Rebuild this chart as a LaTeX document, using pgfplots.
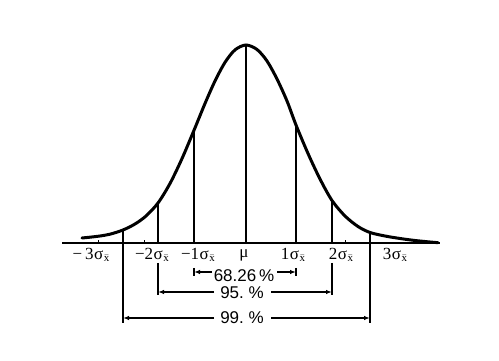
\documentclass[border=0pt]{standalone}
\usepackage{pgfplots}
\pgfplotsset{compat=1.18}
\usetikzlibrary{arrows.meta}
\usepackage{fontspec}
\setmainfont{Liberation Serif}
\newfontfamily\ann{Liberation Sans}
\newcommand{\sx}[1]{#1\kern0.5pt σ\kern0.5pt\raisebox{-0.25ex}{\fontsize{11}{11}\selectfont$\bar{\mathrm{x}}$}}
\tikzset{lab/.style={font=\fontsize{17}{17}\selectfont, inner sep=0pt},
  pct/.style={font=\ann\fontsize{17}{17}\selectfont, inner sep=0pt}}
\begin{document}
\begin{tikzpicture}
\begin{axis}[x=1pt,y=1pt,xmin=0,xmax=499,ymin=-118,ymax=243,
  hide axis, clip=false]
% frame for the page size
\addplot[draw=none] coordinates {(0,-118) (499,243)};
% baseline
\addplot[line width=1.8pt] coordinates {(62,0) (440,0)};
% small ticks
\addplot[line width=1pt] coordinates {(98,0) (98,3)};
\addplot[line width=1pt] coordinates {(144,0) (144,3)};
\addplot[line width=1pt] coordinates {(345,0) (345,3)};
% curve
\addplot[smooth, line width=3pt, line cap=round] coordinates {
(82,5) (90,5.8) (100,7) (110,8.8) (123,13) (135,19) (146,27) (158,40)
(170,59.5) (182,84.4) (194,112.7) (205,139.5) (215,162) (225,180.6)
(235,193.1) (246,198) (257,193.5) (267,182) (277,164) (287,142)
(296,118) (308,89.5) (320,64) (332,42.5) (345,27) (358,16.5)
(370,10.5) (385,7) (400,4.5) (415,2.5) (430,1) (438,0.3)};
% vertical lines
\addplot[line width=1.4pt] coordinates {(246,0) (246,198)};
\addplot[line width=1.4pt] coordinates {(194,0) (194,112.7)};
\addplot[line width=1.4pt] coordinates {(296,0) (296,118)};
\addplot[line width=1.4pt] coordinates {(158,0) (158,40)};
\addplot[line width=1.4pt] coordinates {(332,0) (332,42.5)};
\addplot[line width=1.4pt] coordinates {(158,-20) (158,-52)};
\addplot[line width=1.4pt] coordinates {(332,-20) (332,-52)};
\addplot[line width=1.4pt] coordinates {(123,13) (123,-80)};
\addplot[line width=1.4pt] coordinates {(370,10.5) (370,-80)};
% tick labels
\node[lab] at (axis cs:91,-12) {−\,\sx{3}};
\node[lab] at (axis cs:152,-12) {−\sx{2}};
\node[lab] at (axis cs:198,-12) {−\sx{1}};
\node[lab] at (axis cs:244,-12) {μ};
\node[lab] at (axis cs:293,-12) {\sx{1}};
\node[lab] at (axis cs:341,-12) {\sx{2}};
\node[lab] at (axis cs:395,-12) {\sx{3}};
% 68.26 %
\addplot[line width=1.3pt,-{Latex[length=6pt,width=4.5pt]}] coordinates {(212,-29) (194,-29)};
\addplot[line width=1.3pt,-{Latex[length=6pt,width=4.5pt]}] coordinates {(277,-29) (296,-29)};
\addplot[line width=1.3pt] coordinates {(194,-25) (194,-33)};
\addplot[line width=1.3pt] coordinates {(296,-25) (296,-33)};
\node[pct] at (axis cs:244,-33) {68.26\,\%};
% 95 %
\addplot[line width=1.3pt,-{Latex[length=6pt,width=4.5pt]}] coordinates {(214,-49) (158,-49)};
\addplot[line width=1.3pt,-{Latex[length=6pt,width=4.5pt]}] coordinates {(271,-49) (332,-49)};
\node[pct] at (axis cs:242,-50) {95.~\%};
% 99 %
\addplot[line width=1.3pt,-{Latex[length=6pt,width=4.5pt]}] coordinates {(214,-75) (123,-75)};
\addplot[line width=1.3pt,-{Latex[length=6pt,width=4.5pt]}] coordinates {(271,-75) (370,-75)};
\node[pct] at (axis cs:242,-75) {99.~\%};
\end{axis}
\end{tikzpicture}
\end{document}
